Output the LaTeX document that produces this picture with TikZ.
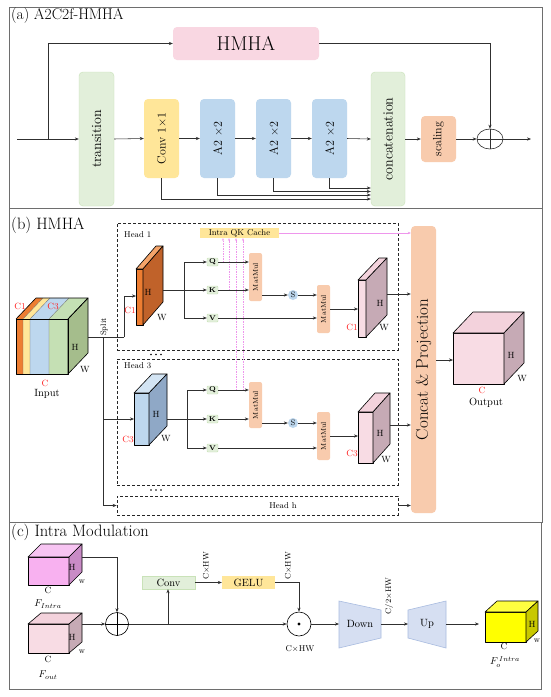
\documentclass[tikz,border=0pt]{standalone}
\usepackage{fontspec}
\usetikzlibrary{arrows.meta,shapes.geometric,calc}
\definecolor{pinkA}{HTML}{F9D7E2}
\definecolor{greenA}{HTML}{E2EFDA}
\definecolor{greenB}{HTML}{C9E2B8}
\definecolor{yellowA}{HTML}{FFE699}
\definecolor{blueA}{HTML}{BDD7EE}
\definecolor{orangeA}{HTML}{F8CBAD}
\definecolor{frameC}{HTML}{6E6E6E}
\definecolor{lineC}{HTML}{303030}
\definecolor{pinkQ}{HTML}{EE96EC}
\definecolor{orgF}{HTML}{ED7D31}
\definecolor{orgT}{HTML}{F4A46A}
\definecolor{orgS}{HTML}{C0622A}
\definecolor{pkF}{HTML}{F8DCE4}
\definecolor{pkT}{HTML}{F3D2DC}
\definecolor{pkS}{HTML}{C6AAB5}
\definecolor{blF}{HTML}{BDD7EE}
\definecolor{blT}{HTML}{D3E4F3}
\definecolor{blS}{HTML}{8FA8C6}
\definecolor{grF}{HTML}{C5E0B4}
\definecolor{grS}{HTML}{A5BD8C}
\definecolor{mgF}{HTML}{F8B1F0}
\definecolor{mgT}{HTML}{F7C4F2}
\definecolor{mgS}{HTML}{C98BC6}
\definecolor{yeF}{HTML}{FFFF00}
\definecolor{yeT}{HTML}{FFFF40}
\definecolor{yeS}{HTML}{C8C800}
\definecolor{trapF}{HTML}{D6DFF2}
\definecolor{trapD}{HTML}{A9BCE0}
\definecolor{redL}{HTML}{FF2020}
\newcommand{\fsz}[1]{\fontsize{#1}{#1}\selectfont}
\newcommand{\drawcuboid}[9]{%
  \filldraw[fill=#7,draw=black,line width=0.6pt,line join=round] (#1,#2) rectangle ++(#3,#4);
  \filldraw[fill=#8,draw=black,line width=0.6pt,line join=round] (#1,#2) -- ++(#5,-#6) -- ++(#3,0) -- ++(-#5,#6) -- cycle;
  \filldraw[fill=#9,draw=black,line width=0.6pt,line join=round] (#1+#3,#2) -- ++(#5,-#6) -- ++(0,#4) -- ++(-#5,#6) -- cycle;
}
\begin{document}
\begin{tikzpicture}[x=1pt,y=-1pt,
  arr/.style={-{Stealth[length=4pt,width=3.2pt]},line width=0.55pt,draw=lineC},
  ln/.style={line width=0.55pt,draw=lineC},
  boxa/.style={rounded corners=4pt,inner sep=0pt,line width=0.4pt},
  dbox/.style={draw=black!85,dash pattern=on 3pt off 2pt,line width=0.7pt,inner sep=0pt},
  qkv/.style={fill=greenA,draw=greenB,rounded corners=1pt,minimum width=11pt,minimum height=8pt,inner sep=0pt,font=\fsz{7}\bfseries},
  mm/.style={fill=orangeA,rounded corners=2pt,minimum width=13pt,inner sep=0pt},
  lbl/.style={inner sep=0pt,font=\fsz{9}},
  rlbl/.style={inner sep=0pt,font=\fsz{9},text=redL},
  pinkdash/.style={draw=pinkQ,dash pattern=on 1.5pt off 1pt,line width=0.5pt,-{Stealth[length=2.5pt,width=2pt]}},
]
\useasboundingbox (0,0) rectangle (550,697);
\fill[white] (0,0) rectangle (550,697);
% frames
\draw[frameC,line width=0.8pt] (9,7) rectangle (542,208);
\draw[frameC,line width=0.8pt] (9,208) rectangle (542,522);
\draw[frameC,line width=0.8pt] (9,522) rectangle (541,689);
\node[anchor=west,inner sep=0pt,font=\fsz{15.5}] (ta) at (11,16) {(a) A2C2f-HMHA};
\node[anchor=west,inner sep=0pt,font=\fsz{16.5}] (tb) at (11,225) {(b) HMHA};
\node[anchor=west,inner sep=0pt,font=\fsz{16.5}] (tc) at (11,532) {(c) Intra Modulation};

% ================= panel (a)
\node[boxa,fill=pinkA,minimum width=146pt,minimum height=33pt,font=\fsz{20}] (hmha) at (246,43.5) {HMHA};
\node[boxa,fill=greenA,draw=greenB,minimum width=35pt,minimum height=134pt] (trans) at (96.5,139) {};
\node[rotate=90,inner sep=0pt,font=\fsz{14}] (transT) at (trans.center) {transition};
\node[boxa,fill=yellowA,minimum width=35pt,minimum height=79pt] (conv) at (161.5,138.5) {};
\node[rotate=90,inner sep=0pt,font=\fsz{12}] (convT) at (conv.center) {Conv 1×1};
\node[boxa,fill=blueA,minimum width=35pt,minimum height=79pt] (a1) at (217.5,138.5) {};
\node[rotate=90,inner sep=0pt,font=\fsz{12}] (a1T) at (a1.center) {A2 ×2};
\node[boxa,fill=blueA,minimum width=35pt,minimum height=79pt] (a2) at (273.5,138.5) {};
\node[rotate=90,inner sep=0pt,font=\fsz{12}] (a2T) at (a2.center) {A2 ×2};
\node[boxa,fill=blueA,minimum width=35pt,minimum height=79pt] (a3) at (329.5,138.5) {};
\node[rotate=90,inner sep=0pt,font=\fsz{12}] (a3T) at (a3.center) {A2 ×2};
\node[boxa,fill=greenA,draw=greenB,minimum width=34pt,minimum height=134pt] (concat) at (388,139) {};
\node[rotate=90,inner sep=0pt,font=\fsz{14}] (concatT) at (concat.center) {concatenation};
\node[boxa,fill=orangeA,minimum width=35pt,minimum height=46pt] (scal) at (438.5,139) {};
\node[rotate=90,inner sep=0pt,font=\fsz{12}] (scalT) at (scal.center) {scaling};
\node[draw=lineC,line width=0.6pt,ellipse,minimum width=26pt,minimum height=20pt,inner sep=0pt] (plusA) at (490,139) {};
\draw[ln] (plusA.north) -- (plusA.south);
\draw[ln] (plusA.west) -- (plusA.east);
\coordinate (inA) at (17,139);
\coordinate (brA) at (48,139);
\coordinate (outA) at (531,139);
\draw[arr] (inA) -- (trans.west);
\draw[arr] (brA) |- (hmha.west);
\draw[arr] (trans.east) -- (conv.west);
\draw[arr] (conv.east) -- (a1.west);
\draw[arr] (a1.east) -- (a2.west);
\draw[arr] (a2.east) -- (a3.west);
\draw[arr] (a3.east) -- (concat.west);
\draw[arr] (concat.east) -- (scal.west);
\draw[arr] (scal.east) -- (plusA.west);
\draw[arr] (plusA.east) -- (outA);
\draw[arr] (hmha.east) -| (plusA.north);
\draw[arr] (conv.south) |- ([yshift=-60pt]concat.west);
\draw[arr] (a1.south) |- ([yshift=-56pt]concat.west);
\draw[arr] (a2.south) |- ([yshift=-52.5pt]concat.west);
\draw[arr] (a3.south) |- ([yshift=-49pt]concat.west);

% ================= panel (b)
\node[dbox,minimum width=281pt,minimum height=127pt] (head1) at (257.5,286.5) {};
\node[dbox,minimum width=281pt,minimum height=126pt] (head3) at (257.5,422) {};
\node[dbox,minimum width=281pt,minimum height=19pt] (headh) at (257.5,505.5) {};
\node[anchor=west,inner sep=0pt,font=\fsz{8.5}] (h1T) at (124,235) {Head 1};
\node[anchor=west,inner sep=0pt,font=\fsz{8.5}] (h3T) at (124,366) {Head 3};
\node[inner sep=0pt,font=\fsz{8.5}] (hhT) at (283,506) {Head h};
\foreach \xx in {151,156,161}{
  \fill (\xx,354.5) circle[radius=0.8pt];
  \fill (\xx,490) circle[radius=0.8pt];
}
\node[boxa,fill=orangeA,minimum width=25pt,minimum height=287pt] (cp) at (423.5,369.5) {};
\node[rotate=90,inner sep=0pt,font=\fsz{17}] (cpT) at (cp.center) {Concat \& Projection};
\node[fill=yellowA,minimum width=79pt,minimum height=10pt,inner sep=0pt,font=\fsz{8.5}] (cache) at (239.5,233) {Intra QK Cache};
\draw[draw=pinkQ,line width=0.6pt,-{Stealth[length=3pt,width=2.5pt]}] (cache.east) -- (cache.east -| cp.west);
\coordinate (p1) at (223,262);
\coordinate (p2) at (229,290);
\coordinate (p3) at (236,390);
\coordinate (p4) at (243,390);
\draw[pinkdash] (p1) -- (p1 |- cache.south);
\draw[pinkdash] (p2) -- (p2 |- cache.south);
\draw[pinkdash] (p3) -- (p3 |- cache.south);
\draw[pinkdash] (p4) -- (p4 |- cache.south);

% input cube
\fill[orgF] (16,319) rectangle (23,374);
\fill[yellowA] (23,319) rectangle (30,374);
\fill[blF] (30,319) rectangle (49,374);
\fill[grF] (49,319) rectangle (68,374);
\fill[orgF] (16,319) -- (23,319) -- (43,298) -- (36,298) -- cycle;
\fill[yellowA] (23,319) -- (30,319) -- (50,298) -- (43,298) -- cycle;
\fill[blF] (30,319) -- (49,319) -- (69,298) -- (50,298) -- cycle;
\fill[grF] (49,319) -- (68,319) -- (88,298) -- (69,298) -- cycle;
\filldraw[fill=grS,draw=black,line width=0.6pt,line join=round] (68,319) -- (88,298) -- (88,353) -- (68,374) -- cycle;
\draw[black!60,line width=0.3pt] (23,374) -- (23,319) -- (43,298) (30,374) -- (30,319) -- (50,298) (49,374) -- (49,319) -- (69,298);
\draw[black,line width=0.6pt,line join=round] (16,319) rectangle (68,374);
\draw[black,line width=0.6pt,line join=round] (16,319) -- (36,298) -- (88,298) -- (68,319);
\node[lbl] (inH) at (75,347) {H};
\node[lbl] (inW) at (85,370) {W};
\node[rlbl] (inC1) at (20,306) {C1};
\node[rlbl] (inC3) at (53,306) {C3};
\node[rlbl] (inC) at (45,383) {C};
\node[inner sep=0pt,font=\fsz{10.5}] (inT) at (47,394) {Input};
\node[rotate=90,inner sep=0pt,font=\fsz{8}] (splitT) at (104,327) {Split};

\coordinate (inR) at (88,337);
\coordinate (spl) at (103,337);
\coordinate (kk) at (124,337);
\coordinate (h1in) at (136,296);
\coordinate (h3in) at (134,419);
\draw[ln] (inR) -- (kk);
\draw[arr] (kk) |- (h1in);
\draw[arr] (spl) |- (h3in);
\draw[arr] (spl) |- (headh.west);

% ---- head 1
\drawcuboid{136}{269}{7}{56}{20}{23}{orgF}{orgT}{orgS}
\node[lbl] (h1H) at (148,292) {H};
\node[lbl] (h1W) at (162,318) {W};
\node[rlbl] (h1C) at (130,310) {C1};
\node[qkv] (q1) at (212.5,262) {Q};
\node[qkv] (k1) at (212.5,290) {K};
\node[qkv] (v1) at (212.5,318) {V};
\coordinate (h1s) at (163,290);
\coordinate (b1) at (184,290);
\draw[ln] (h1s) -- (b1);
\draw[arr] (b1) |- (q1.west);
\draw[arr] (b1) -- (k1.west);
\draw[arr] (b1) |- (v1.west);
\node[mm,minimum height=48pt] (mm1) at (255.5,277) {};
\node[rotate=90,inner sep=0pt,font=\fsz{7}] (mm1T) at (mm1.center) {MatMul};
\node[circle,fill=blueA,minimum size=10pt,inner sep=0pt,font=\fsz{8}] (s1) at (293,295) {S};
\node[mm,minimum height=48pt] (mm2) at (323.5,309) {};
\node[rotate=90,inner sep=0pt,font=\fsz{7}] (mm2T) at (mm2.center) {MatMul};
\draw[arr] (q1.east) -- (q1 -| mm1.west);
\draw[arr] (k1.east) -- (k1 -| mm1.west);
\draw[arr] (mm1.east |- s1) -- (s1.west);
\draw[arr] (s1.east) -- (s1 -| mm2.west);
\draw[arr] (v1.east) -- (v1 -| mm2.west);
\coordinate (o1in) at (358,309);
\draw[arr] (mm2.east) -- (o1in);
\drawcuboid{358}{280}{8}{57}{21}{22}{pkF}{pkT}{pkS}
\node[lbl] (o1H) at (380,303) {H};
\node[lbl] (o1W) at (384,328) {W};
\node[rlbl] (o1C) at (352,327) {C1};
\coordinate (o1s) at (387,294);
\draw[arr] (o1s) -- (o1s -| cp.west);

% ---- head 3
\drawcuboid{134}{393}{15}{52}{18}{19}{blF}{blT}{blS}
\node[lbl] (h3H) at (156,414) {H};
\node[lbl] (h3W) at (166,439) {W};
\node[rlbl] (h3C) at (128,439) {C3};
\node[qkv] (q3) at (212.5,390) {Q};
\node[qkv] (k3) at (212.5,419) {K};
\node[qkv] (v3) at (212.5,448) {V};
\coordinate (h3s) at (167,419);
\coordinate (b3) at (187,419);
\draw[ln] (h3s) -- (b3);
\draw[arr] (b3) |- (q3.west);
\draw[arr] (b3) -- (k3.west);
\draw[arr] (b3) |- (v3.west);
\node[mm,minimum height=46pt] (mm3) at (255.5,405) {};
\node[rotate=90,inner sep=0pt,font=\fsz{7}] (mm3T) at (mm3.center) {MatMul};
\node[circle,fill=blueA,minimum size=10pt,inner sep=0pt,font=\fsz{8}] (s3) at (293,423) {S};
\node[mm,minimum height=48pt] (mm4) at (323.5,436) {};
\node[rotate=90,inner sep=0pt,font=\fsz{7}] (mm4T) at (mm4.center) {MatMul};
\draw[arr] (q3.east) -- (q3 -| mm3.west);
\draw[arr] (k3.east) -- (k3 -| mm3.west);
\draw[arr] (mm3.east |- s3) -- (s3.west);
\draw[arr] (s3.east) -- (s3 -| mm4.west);
\draw[arr] (v3.east) -- (v3 -| mm4.west);
\coordinate (o3in) at (358,436);
\draw[arr] (mm4.east) -- (o3in);
\drawcuboid{358}{412}{15}{51}{17}{19}{pkF}{pkT}{pkS}
\node[lbl] (o3H) at (380,433) {H};
\node[lbl] (o3W) at (386,460) {W};
\node[rlbl] (o3C) at (352,453) {C3};
\coordinate (o3s) at (390,425);
\draw[arr] (o3s) -- (o3s -| cp.west);
\draw[arr] (headh.east) -- (headh.east -| cp.west);

% output cube
\drawcuboid{453}{333}{51}{51}{20}{21}{pkF}{pkT}{pkS}
\coordinate (oc) at (453,360);
\draw[arr] (oc -| cp.east) -- (oc);
\node[lbl] (ocH) at (511,355) {H};
\node[lbl] (ocW) at (522,379) {W};
\node[rlbl] (ocC) at (482,390) {C};
\node[inner sep=0pt,font=\fsz{10.5}] (ocT) at (486,403) {Output};

% ================= panel (c)
\drawcuboid{28}{557}{41}{28}{13}{13}{mgF}{mgT}{mgS}
\node[lbl] (fiH) at (72,567) {H};
\node[inner sep=0pt,font=\fsz{8}] (fiW) at (82,582) {w};
\node[lbl] (fiC) at (48,590) {C};
\node[inner sep=0pt,font=\fsz{10}] (fiT) at (48,604) {$F_{Intra}$};
\drawcuboid{28}{624}{41}{29}{13}{11}{pkF}{pkT}{pkS}
\node[lbl] (foH) at (72,637) {H};
\node[inner sep=0pt,font=\fsz{8}] (foW) at (82,652) {w};
\node[lbl] (foC) at (48,659) {C};
\node[inner sep=0pt,font=\fsz{10}] (foT) at (48,675) {$F_{out}$};
\node[circle,draw=black,line width=0.6pt,minimum size=23pt,inner sep=0pt] (plusC) at (117,624) {};
\draw[ln,draw=black] (plusC.north) -- (plusC.south);
\draw[ln,draw=black] (plusC.west) -- (plusC.east);
\coordinate (fiR) at (82,557);
\coordinate (foR) at (82,624);
\draw[arr] (fiR) -| (plusC.north);
\draw[arr] (foR) -- (plusC.west);
\node[fill=greenA,draw=greenB,minimum width=53pt,minimum height=13pt,inner sep=0pt,font=\fsz{10.5}] (convC) at (168.5,582.5) {Conv};
\node[fill=yellowA,minimum width=53pt,minimum height=13pt,inner sep=0pt,font=\fsz{10.5}] (gelu) at (248.5,582.5) {GELU};
\node[circle,draw=black,line width=0.6pt,minimum size=24pt,inner sep=0pt] (odot) at (299,624) {};
\fill (odot.center) circle[radius=1.6pt];
\coordinate (brC) at (168,624);
\draw[arr] (plusC.east) -- (odot.west);
\draw[arr] (brC) -- (brC |- convC.south);
\draw[arr] (convC.east) -- (gelu.west);
\draw[arr] (gelu.east) -| (odot.north);
\node[rotate=90,inner sep=0pt,font=\fsz{8}] (chw1) at (206,566) {C×HW};
\node[rotate=90,inner sep=0pt,font=\fsz{8}] (chw2) at (288,566) {C×HW};
\node[inner sep=0pt,font=\fsz{8.5}] (chw3) at (300,649) {C×HW};
\filldraw[fill=trapF,draw=trapD,line width=0.6pt] (339,601) -- (381,610) -- (381,638) -- (339,648) -- cycle;
\node[inner sep=0pt,font=\fsz{10.5}] (down) at (360,624) {Down};
\filldraw[fill=trapF,draw=trapD,line width=0.6pt] (408,610) -- (446,601) -- (446,648) -- (408,638) -- cycle;
\node[inner sep=0pt,font=\fsz{10.5}] (up) at (427,624) {Up};
\coordinate (dnL) at (339,624);
\coordinate (dnR) at (381,624);
\coordinate (upL) at (408,624);
\coordinate (upR) at (446,624);
\coordinate (ycL) at (479,624);
\draw[arr] (odot.east) -- (dnL);
\draw[arr] (dnR) -- (upL);
\draw[arr] (upR) -- (ycL);
\node[rotate=90,inner sep=0pt,font=\fsz{8}] (c2hw) at (389,596) {C/2×HW};
\drawcuboid{485}{612}{41}{30}{12}{11}{yeF}{yeT}{yeS}
\node[lbl] (yH) at (532,624) {H};
\node[inner sep=0pt,font=\fsz{8}] (yW) at (537,641) {w};
\node[lbl] (yC) at (504,646) {C};
\node[inner sep=0pt,font=\fsz{10}] (yT) at (505,662) {$F_{o}^{\,Intra}$};
\end{tikzpicture}
\end{document}
